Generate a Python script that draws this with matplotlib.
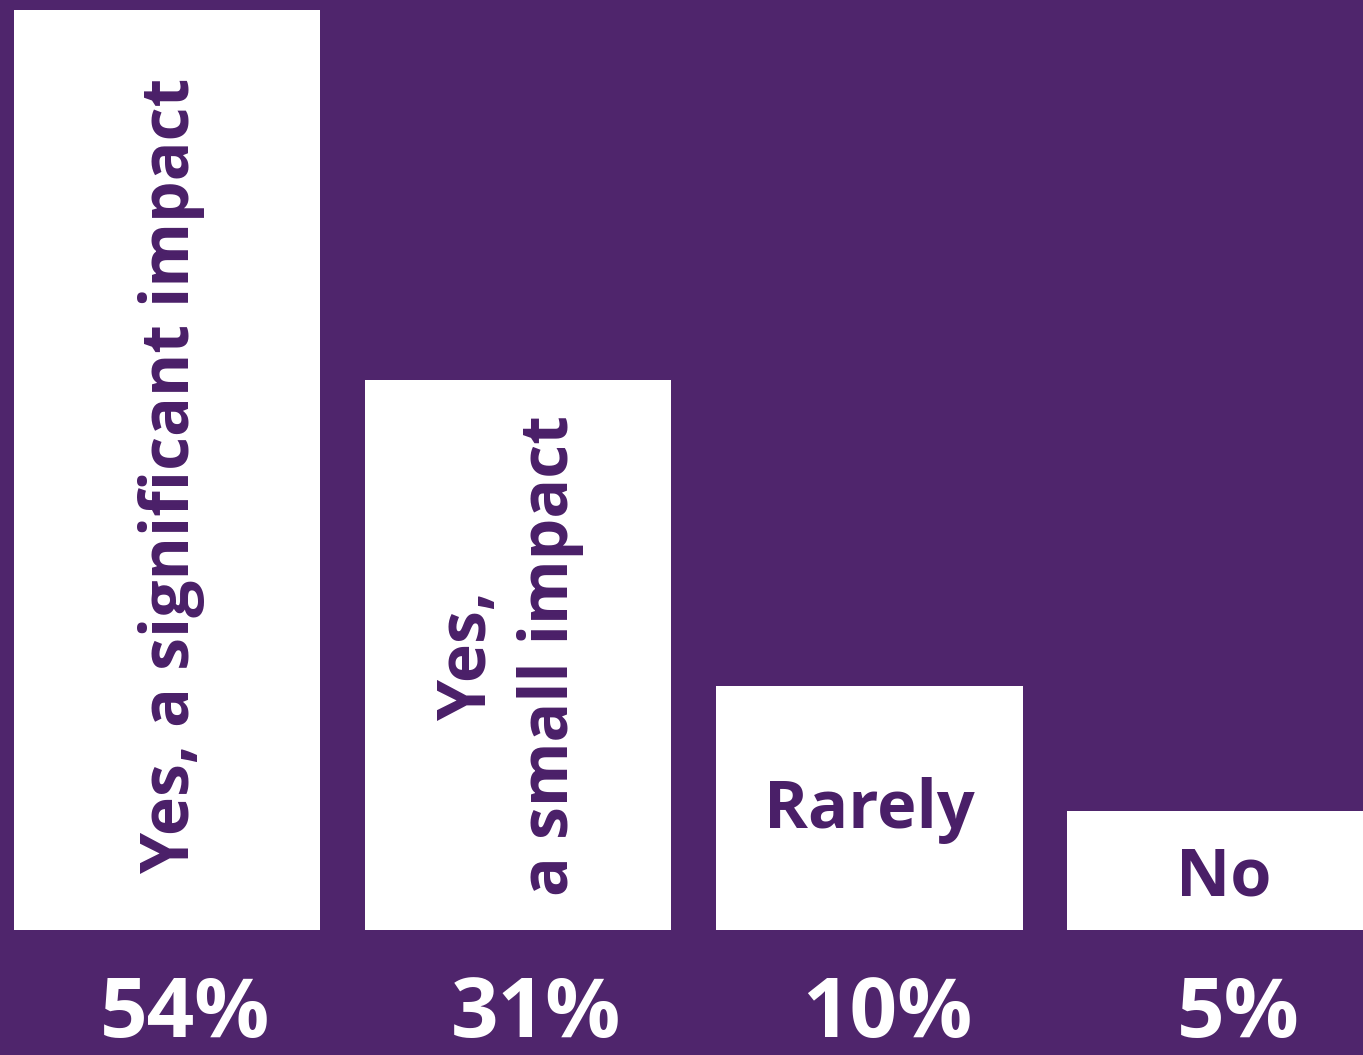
import matplotlib
matplotlib.use("Agg")
import matplotlib.pyplot as plt

# Answer categories and survey shares
categories = ["Yes, a significant impact", "Yes,\na small impact", "Rarely", "No"]
percent_labels = [54, 31, 10, 5]
# Bar heights as drawn in the graphic (not strictly proportional to the shares)
bar_heights = [54, 32.3, 14.3, 7.0]

BG = "#4f256c"
TEXT_PURPLE = "#4a1f68"

plt.rcParams["font.family"] = ["Open Sans", "DejaVu Sans"]

fig = plt.figure(figsize=(13.63, 10.55), dpi=100, facecolor=BG)
ax = fig.add_axes([0, 0, 1, 1])
ax.set_facecolor(BG)

x = list(range(len(categories)))
ax.bar(x, bar_heights, width=0.872, color="white", edgecolor="none")

ax.set_xlim(-0.477, 3.406)
ax.set_ylim(-7.34, 54.58)
ax.axis("off")

# percentages under the bars
for xi, p in zip(x, percent_labels):
    ax.text(xi + 0.05, -5.05, f"{p}%", color="white", fontsize=60, fontweight="bold",
            ha="center", va="center")

# category labels inside the bars
ax.text(0.012, 26.7, categories[0], color=TEXT_PURPLE, fontsize=47.5, fontweight="bold",
        rotation=90, ha="center", va="center")
ax.text(0.975, 16.1, categories[1], color=TEXT_PURPLE, fontsize=47.5, fontweight="bold",
        rotation=90, ha="center", va="center", multialignment="center",
        linespacing=1.3)
ax.text(2.0, 7.0, categories[2], color=TEXT_PURPLE, fontsize=48, fontweight="bold",
        ha="center", va="center")
ax.text(3.01, 3.05, categories[3], color=TEXT_PURPLE, fontsize=48, fontweight="bold",
        ha="center", va="center")

fig.savefig("out.png", dpi=100, facecolor=BG)
